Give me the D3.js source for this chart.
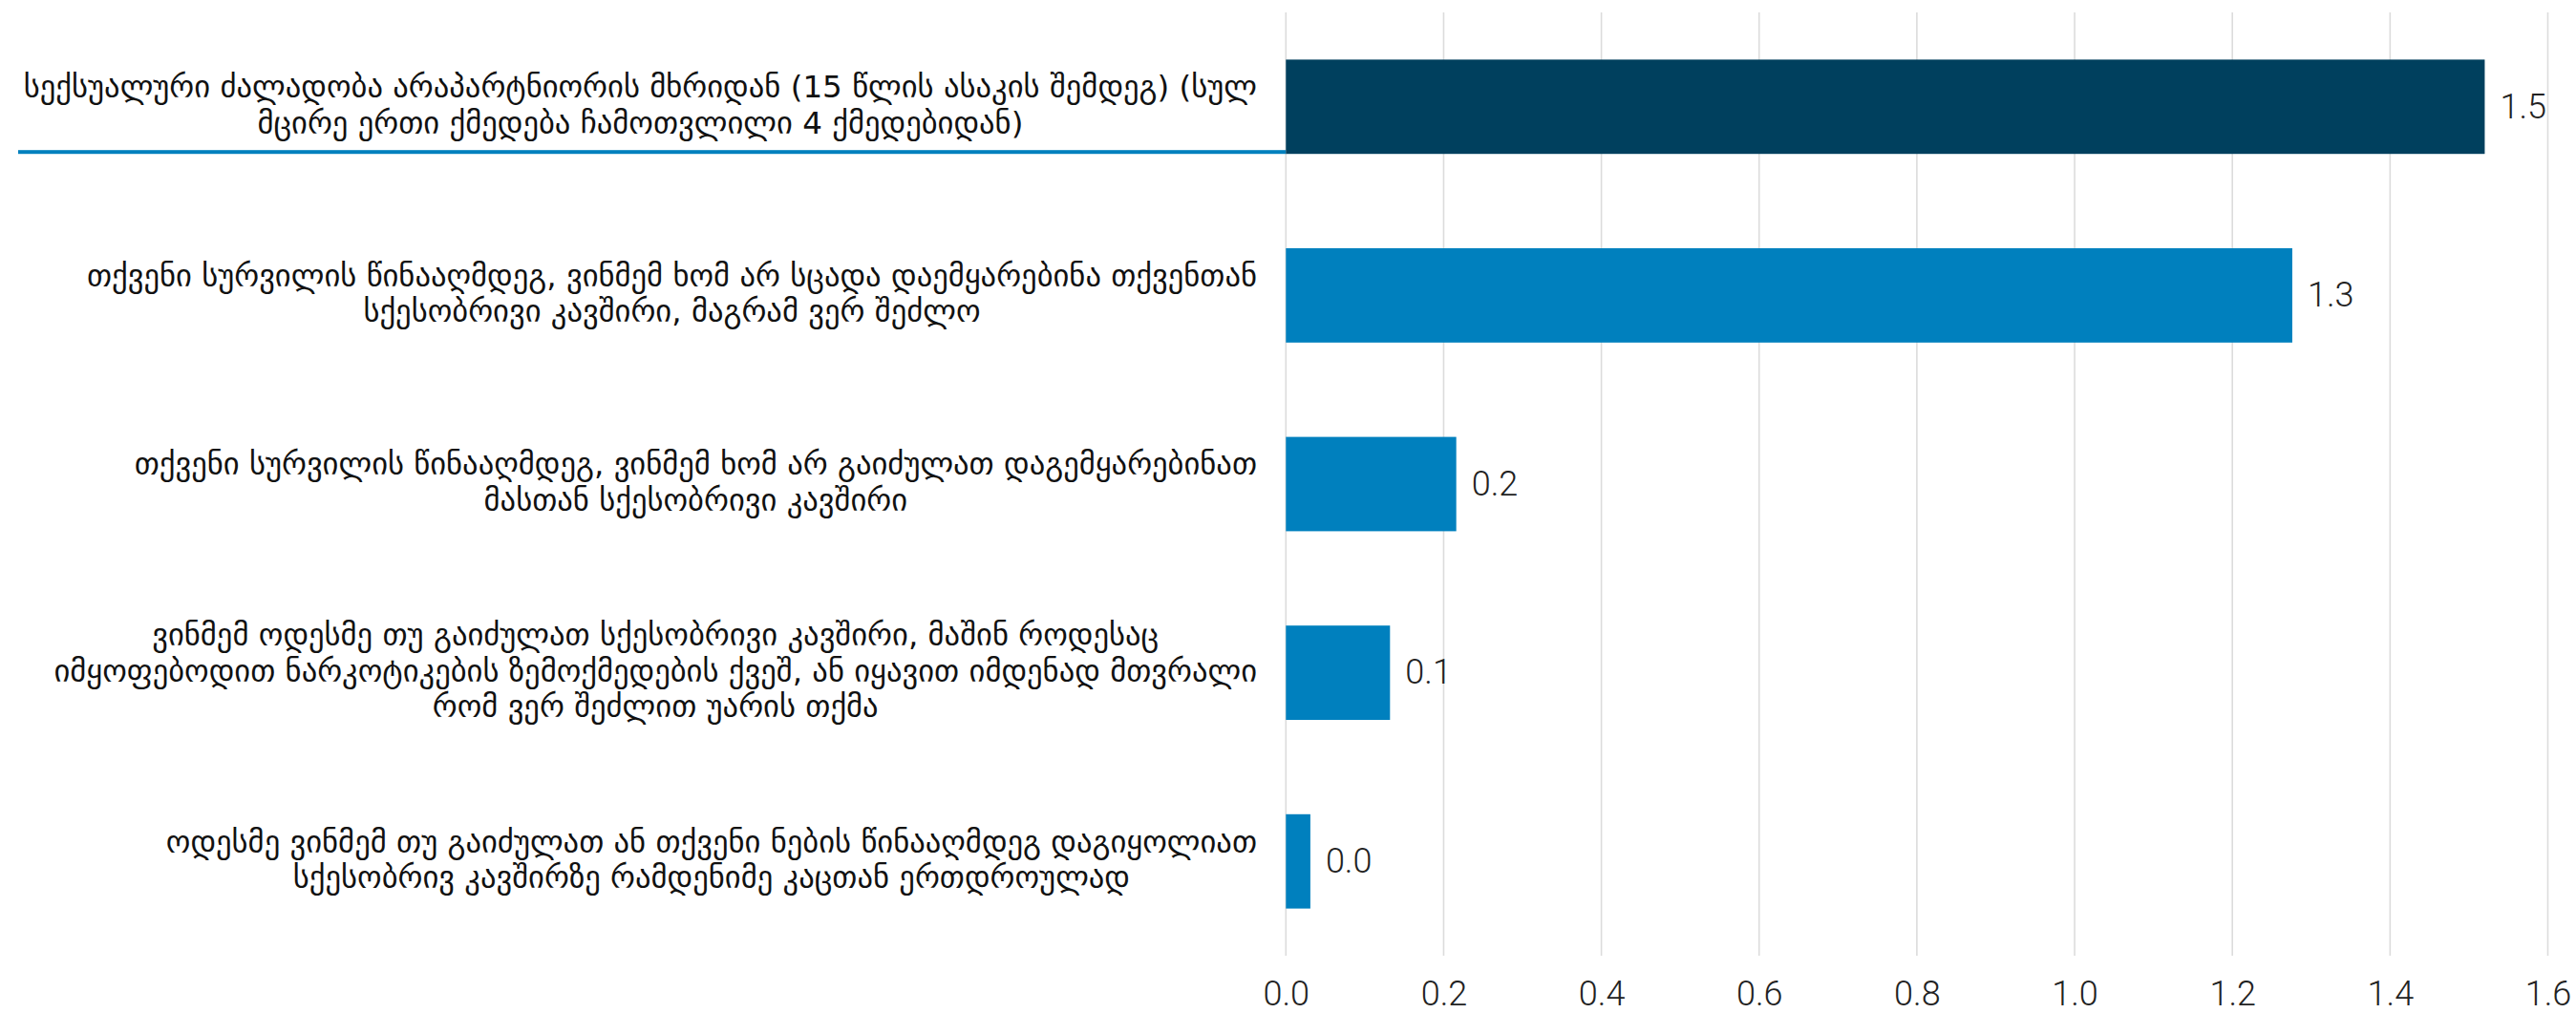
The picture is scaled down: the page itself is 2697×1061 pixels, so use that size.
<!DOCTYPE html>
<html>
<head>
<meta charset="utf-8">
<script src="https://cdn.jsdelivr.net/npm/d3@7"></script>
<style>
  html, body { margin: 0; padding: 0; background: #ffffff; }
  svg { display: block; }
</style>
</head>
<body>
<svg id="chart" width="2697" height="1061"></svg>
<script>
// ---- data ----
const categories = [
  ["სექსუალური ძალადობა არაპარტნიორის მხრიდან (15 წლის ასაკის შემდეგ) (სულ", "მცირე ერთი ქმედება ჩამოთვლილი 4 ქმედებიდან)"],
  ["თქვენი სურვილის წინააღმდეგ, ვინმემ ხომ არ სცადა დაემყარებინა თქვენთან", "სქესობრივი კავშირი, მაგრამ ვერ შეძლო"],
  ["თქვენი სურვილის წინააღმდეგ, ვინმემ ხომ არ გაიძულათ დაგემყარებინათ", "მასთან სქესობრივი კავშირი"],
  ["ვინმემ ოდესმე თუ გაიძულათ სქესობრივი კავშირი, მაშინ როდესაც", "იმყოფებოდით ნარკოტიკების ზემოქმედების ქვეშ, ან იყავით იმდენად მთვრალი", "რომ ვერ შეძლით უარის თქმა"],
  ["ოდესმე ვინმემ თუ გაიძულათ ან თქვენი ნების წინააღმდეგ დაგიყოლიათ", "სქესობრივ კავშირზე რამდენიმე კაცთან ერთდროულად"]
];
const values = [1.52, 1.276, 0.216, 0.132, 0.031];
const highlighted = [true, false, false, false, false];
const xTicks = [0, 0.2, 0.4, 0.6, 0.8, 1.0, 1.2, 1.4, 1.6];
const xDomain = [0, 1.6];

// ---- layout ----
const W = 2697, H = 1061;
const plotLeft = 1346.3, plotRight = 2667.5, plotTop = 13, plotBottom = 1001;
const labelRight = 1316;
const darkColor = "#00405e", blueColor = "#0080be";
const numFont = "Roboto, 'Liberation Sans', sans-serif";
const geoFont = "'DejaVu Sans', sans-serif";

const svg = d3.select("#chart");
const ids = d3.range(categories.length);

const x = d3.scaleLinear().domain(xDomain).range([plotLeft, plotRight]);
const y = d3.scaleBand().domain(ids).range([plotTop, plotBottom]).paddingInner(0.5).paddingOuter(0.25);

// gridlines
svg.append("g").selectAll("line").data(xTicks).join("line")
  .attr("x1", d => x(d)).attr("x2", d => x(d))
  .attr("y1", plotTop).attr("y2", plotBottom)
  .attr("stroke", "#dcdcdc").attr("stroke-width", 1.6);

// x axis labels
const xAxis = d3.axisBottom(x).tickValues(xTicks).tickFormat(d3.format(".1f")).tickSize(0).tickPadding(0);
const gx = svg.append("g").attr("transform", `translate(0,${plotBottom})`).call(xAxis);
gx.select(".domain").remove();
gx.selectAll("text")
  .attr("y", 52).attr("dy", 0)
  .attr("font-family", numFont).attr("font-weight", 300)
  .attr("font-size", 36).attr("fill", "#222");

// highlight underline for first category
ids.filter(i => highlighted[i]).forEach(i => {
  svg.append("rect")
    .attr("x", 19).attr("width", x(0) - 19)
    .attr("y", y(i) + y.bandwidth() - 4).attr("height", 4)
    .attr("fill", blueColor);
});

// bars
svg.append("g").selectAll("rect").data(ids).join("rect")
  .attr("x", x(0))
  .attr("y", i => y(i))
  .attr("width", i => x(values[i]) - x(0))
  .attr("height", y.bandwidth())
  .attr("fill", i => highlighted[i] ? darkColor : blueColor);

// value labels
svg.append("g").selectAll("text").data(ids).join("text")
  .attr("x", i => x(values[i]) + 16)
  .attr("y", i => y(i) + y.bandwidth() / 2)
  .attr("dy", "0.33em")
  .attr("font-family", numFont).attr("font-weight", 300)
  .attr("font-size", 36).attr("fill", "#222")
  .text(i => d3.format(".1f")(values[i]));

// category labels (centered block, right-aligned to labelRight)
const lineH = 37.5;
const catG = svg.append("g");
ids.forEach(i => {
  const lines = categories[i];
  const g = catG.append("g");
  const cy = y(i) + y.bandwidth() / 2;
  const texts = lines.map((ln, k) => g.append("text")
    .attr("y", cy + (k - (lines.length - 1) / 2) * lineH)
    .attr("dy", "0.28em")
    .attr("font-family", geoFont)
    .attr("font-size", 32.6)
    .attr("fill", "#111")
    .attr("text-anchor", "middle")
    .text(ln));
  const maxW = d3.max(texts, t => t.node().getComputedTextLength());
  texts.forEach(t => t.attr("x", labelRight - maxW / 2));
});
</script>
</body>
</html>
